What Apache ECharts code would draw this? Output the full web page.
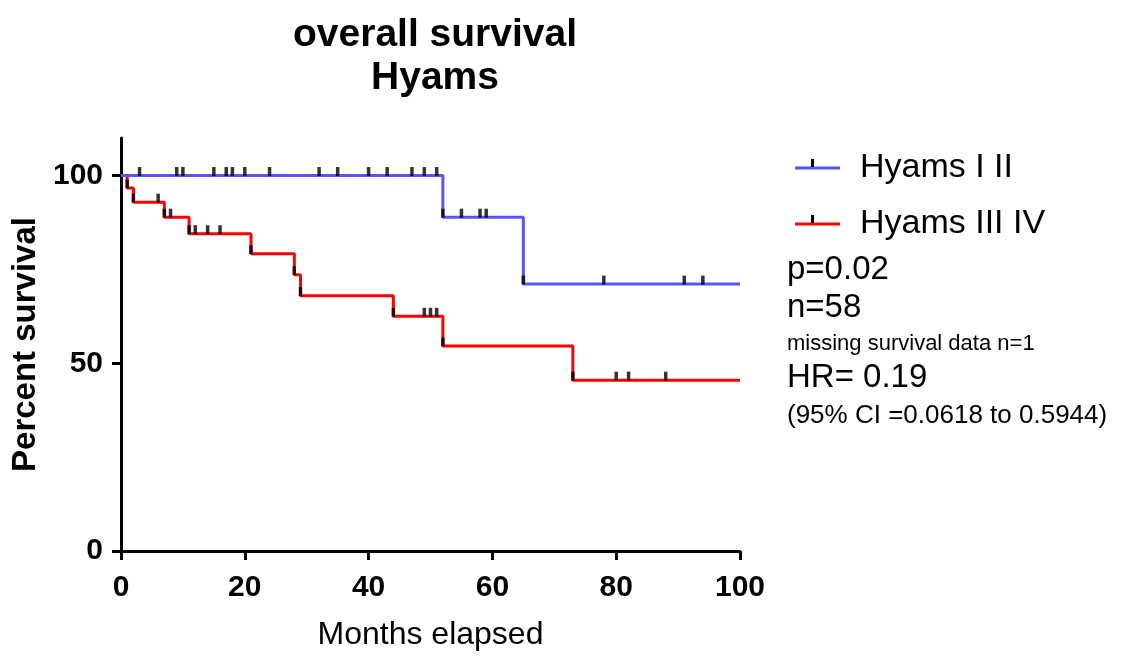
<!DOCTYPE html>
<html>
<head>
<meta charset="utf-8">
<script src="https://cdn.jsdelivr.net/npm/echarts@6/dist/echarts.min.js"></script>
<style>
  html, body { margin: 0; padding: 0; background: #fff; }
  #main { width: 1122px; height: 657px; }
</style>
</head>
<body>
<div id="main"></div>
<script>
// step curves (time in months, percent survival after the drop)
var blueTimes = [0, 52, 65, 100];
var blueSurv = [100, 88.9, 71.1, 71.1];
var redTimes = [0, 1, 2, 7, 11, 21, 28, 29, 44, 52, 73, 100];
var redSurv = [100, 96.7, 92.9, 88.9, 84.5, 79.2, 73.6, 68.0, 62.5, 54.6, 45.5, 45.5];

// censored times
var blueCensor = [3, 9, 10, 15, 17, 18, 20, 24, 32, 35, 40, 43, 47, 49, 51, 55, 58, 59, 78, 91, 94];
var redCensor = [6, 8, 12, 14, 16, 49, 50, 51, 80, 82, 88];

var xTicks = [0, 20, 40, 60, 80, 100];
var yTicks = [0, 50, 100];

function survAt(times, surv, t) {
  var s = surv[0];
  for (var i = 0; i < times.length; i++) {
    if (times[i] <= t) s = surv[i];
  }
  return s;
}

function tickPoints(times, surv, censor) {
  var pts = [];
  // a mark at the foot of every drop
  for (var i = 1; i < times.length - 1; i++) {
    pts.push([times[i], surv[i]]);
  }
  for (var j = 0; j < censor.length; j++) {
    pts.push([censor[j], survAt(times, surv, censor[j])]);
  }
  return pts;
}

function zip(a, b) {
  return a.map(function (v, i) { return [v, b[i]]; });
}

var font = 'Liberation Sans, Arial, sans-serif';
var myChart = echarts.init(document.getElementById('main'));

function note(txt, y, size) {
  return {
    type: 'text', x: 787, y: y,
    style: { text: txt, font: size + 'px ' + font, fill: '#000', verticalAlign: 'middle' }
  };
}

myChart.setOption({
  animation: false,
  title: {
    text: 'overall survival\nHyams',
    left: 430,
    top: 9,
    textAlign: 'center',
    textStyle: {
      fontFamily: font,
      fontSize: 39,
      fontWeight: 'bold',
      color: '#000',
      lineHeight: 43
    }
  },
  legend: {
    orient: 'vertical',
    left: 790,
    top: 146,
    itemWidth: 45,
    itemHeight: 3,
    itemGap: 22,
    icon: 'path://M0,0H45V3H0Z',
    data: ['Hyams I II', 'Hyams III IV'],
    textStyle: { fontFamily: font, fontSize: 34, color: '#000', padding: [0, 0, 0, 15] }
  },
  grid: {
    left: 121,
    right: 382,
    top: 138,
    bottom: 106
  },
  xAxis: {
    type: 'value',
    min: 0,
    max: 100,
    interval: 20,
    name: 'Months elapsed',
    nameLocation: 'middle',
    nameGap: 68,
    nameTextStyle: { fontFamily: font, fontSize: 32, color: '#000' },
    axisLine: { lineStyle: { color: '#000', width: 3 } },
    axisTick: { show: true, length: 9, lineStyle: { color: '#000', width: 3 } },
    axisLabel: {
      fontFamily: font, fontSize: 30, fontWeight: 'bold', color: '#000', margin: 22,
      customValues: xTicks
    },
    splitLine: { show: false }
  },
  yAxis: {
    type: 'value',
    min: 0,
    max: 110,
    interval: 50,
    name: 'Percent survival',
    nameLocation: 'middle',
    nameGap: 71,
    nameTextStyle: { fontFamily: font, fontSize: 33, fontWeight: 'bold', color: '#000' },
    axisLine: { show: true, lineStyle: { color: '#000', width: 3 } },
    axisTick: { show: true, length: 9, lineStyle: { color: '#000', width: 3 }, customValues: yTicks },
    axisLabel: {
      fontFamily: font, fontSize: 30, fontWeight: 'bold', color: '#000', margin: 18,
      customValues: yTicks
    },
    splitLine: { show: false }
  },
  series: [
    {
      name: 'Hyams III IV',
      type: 'line',
      step: 'end',
      symbol: 'none',
      z: 2,
      itemStyle: { color: '#ff0000' },
      lineStyle: { color: '#ff0000', width: 3 },
      data: zip(redTimes, redSurv)
    },
    {
      name: 'Hyams I II',
      type: 'line',
      step: 'end',
      symbol: 'none',
      z: 3,
      itemStyle: { color: '#5555ff' },
      lineStyle: { color: '#5555ff', width: 3 },
      data: zip(blueTimes, blueSurv)
    },
    {
      name: 'ticks red',
      type: 'scatter',
      z: 4,
      symbol: 'rect',
      symbolSize: [3.5, 9],
      symbolOffset: [0, -4],
      itemStyle: { color: '#000' },
      data: tickPoints(redTimes, redSurv, redCensor)
    },
    {
      name: 'ticks blue',
      type: 'scatter',
      z: 4,
      symbol: 'rect',
      symbolSize: [3.5, 9],
      symbolOffset: [0, -4],
      itemStyle: { color: '#000' },
      data: tickPoints(blueTimes, blueSurv, blueCensor)
    }
  ],
  graphic: [
    // little tick on the legend lines
    { type: 'rect', shape: { x: 811, y: 159, width: 3, height: 8 }, style: { fill: '#000' }, z: 100 },
    { type: 'rect', shape: { x: 811, y: 215, width: 3, height: 8 }, style: { fill: '#000' }, z: 100 },
    note('p=0.02', 270, 33),
    note('n=58', 308, 33),
    note('missing survival data n=1', 344, 22),
    note('HR= 0.19', 378, 33),
    note('(95% CI =0.0618 to 0.5944)', 416, 26)
  ]
});
</script>
</body>
</html>
